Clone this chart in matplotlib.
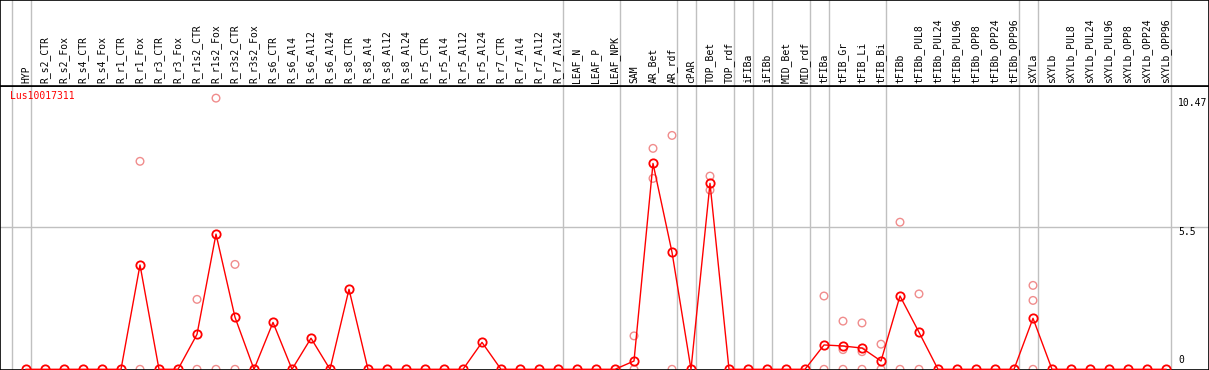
import numpy as np
import matplotlib
matplotlib.use("Agg")
import matplotlib.pyplot as plt

plt.rcParams['font.family'] = ['DejaVu Sans Mono']

# 样本名称
samples = ['HYP', 'R_s2_CTR', 'R_s2_Fox', 'R_s4_CTR', 'R_s4_Fox', 'R_r1_CTR', 'R_r1_Fox',
           'R_r3_CTR', 'R_r3_Fox', 'R_r1s2_CTR', 'R_r1s2_Fox', 'R_r3s2_CTR', 'R_r3s2_Fox',
           'R_s6_CTR', 'R_s6_Al4', 'R_s6_Al12', 'R_s6_Al24', 'R_s8_CTR', 'R_s8_Al4',
           'R_s8_Al12', 'R_s8_Al24', 'R_r5_CTR', 'R_r5_Al4', 'R_r5_Al12', 'R_r5_Al24',
           'R_r7_CTR', 'R_r7_Al4', 'R_r7_Al12', 'R_r7_Al24', 'LEAF_N', 'LEAF_P', 'LEAF_NPK',
           'SAM', 'AR_Bet', 'AR_rdf', 'cPAR', 'TOP_Bet', 'TOP_rdf', 'iFIBa', 'iFIBb',
           'MID_Bet', 'MID_rdf', 'tFIBa', 'tFIB_Gr', 'tFIB_Li', 'tFIB_Bi', 'tFIBb',
           'tFIBb_PUL8', 'tFIBb_PUL24', 'tFIBb_PUL96', 'tFIBb_OPP8', 'tFIBb_OPP24',
           'tFIBb_OPP96', 'sXYLa', 'sXYLb', 'sXYLb_PUL8', 'sXYLb_PUL24', 'sXYLb_PUL96',
           'sXYLb_OPP8', 'sXYLb_OPP24', 'sXYLb_OPP96']

# 平均表达值
mean_expr = [0, 0, 0, 0, 0, 0, 4.03, 0, 0, 1.35, 5.22, 2.01, 0,
             1.81, 0, 1.20, 0, 3.09, 0, 0, 0, 0, 0, 0, 1.04,
             0, 0, 0, 0, 0, 0, 0,
             0.32, 7.95, 4.52, 0, 7.18, 0, 0, 0, 0, 0,
             0.94, 0.90, 0.82, 0.32, 2.83, 1.43, 0, 0, 0, 0, 0,
             1.97, 0, 0, 0, 0, 0, 0, 0]

# 重复样本 (索引, 值)
rep_idx = [6, 6, 9, 9, 10, 10, 11, 11,
           32, 32, 33, 33, 34, 34, 36, 36,
           42, 42, 43, 43, 43, 44, 44, 44, 45, 45, 46, 46, 47, 47,
           53, 53, 53]
rep_val = [8.03, 0, 2.70, 0, 10.47, 0, 4.05, 0,
           1.29, 0, 8.53, 7.37, 9.03, 0, 7.46, 6.92,
           2.83, 0, 1.86, 0.76, 0, 1.79, 0.68, 0, 0.97, 0, 5.68, 0, 2.91, 0,
           3.24, 2.66, 0]

# 分组边界 (在该样本之前)
group_starts = [0, 1, 29, 32, 35, 36, 38, 39, 40, 42, 43, 46, 53, 54, 61]

y_ticks = [0, 5.5, 10.47]
y_tick_labels = ['0', '5.5', '10.47']
gene = 'Lus10017311'

W, H = 1209, 370
fig = plt.figure(figsize=(W / 100, H / 100), dpi=100)
top_px = 86
ax = fig.add_axes([0, 0, 1, (H - top_px) / H])
ax_top = fig.add_axes([0, (H - top_px) / H, 1, top_px / H])

x = np.arange(len(samples))
step = 19.0
x0_px = 26.0
xlim = (-x0_px / step, (W - x0_px) / step)
ppu = 25.9
y0_px = 369.3
ylim = (-(H - y0_px) / ppu, (y0_px - top_px) / ppu)

for a in (ax, ax_top):
    a.set_xlim(*xlim)
    a.set_xticks([])
    a.set_yticks([])
    for b in group_starts:
        a.axvline(b - 0.76, color='#c0c0c0', lw=1.0, zorder=0)
    for s in a.spines.values():
        s.set_color('black')
        s.set_linewidth(1.2)

ax.set_ylim(*ylim)
ax.axhline(5.5, color='#c0c0c0', lw=1.0, zorder=0)

ax.scatter(rep_idx, rep_val, s=30, facecolors='none', edgecolors='#f08c8c',
           linewidths=1.0, zorder=2)
ax.plot(x, mean_expr, color='#ff0000', lw=1.0, marker='o', markersize=6,
        markerfacecolor='none', markeredgecolor='#ff0000', markeredgewidth=1.3, zorder=3)

ax.text(10 / W, 1 - 5 / (H - top_px), gene, transform=ax.transAxes, color='red',
        fontsize=7, ha='left', va='top')

tx = 1178 / W
ax.text(tx, y_ticks[2], y_tick_labels[2], transform=ax.get_yaxis_transform(),
        fontsize=7, ha='left', va='top')
ax.text(tx, y_ticks[1], y_tick_labels[1], transform=ax.get_yaxis_transform(),
        fontsize=7, ha='left', va='top')
ax.text(tx, y_ticks[0] + 0.15, y_tick_labels[0], transform=ax.get_yaxis_transform(),
        fontsize=7, ha='left', va='bottom')

ax_top.set_ylim(0, 1)
for i, name in enumerate(samples):
    ax_top.text(i, 3 / top_px, name, rotation=90, ha='center', va='bottom',
                fontsize=7, color='black')

fig.savefig('out.png', dpi=100)
